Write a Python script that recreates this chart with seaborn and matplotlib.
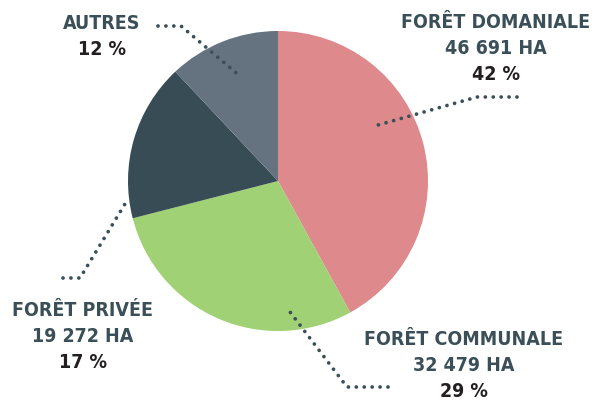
import matplotlib
matplotlib.use("Agg")
import matplotlib.pyplot as plt
import seaborn as sns

# part of the forest area by owner type
names = ["FORÊT DOMANIALE", "FORÊT COMMUNALE", "FORÊT PRIVÉE", "AUTRES"]
hectares = ["46 691 HA", "32 479 HA", "19 272 HA", ""]
percents = [42, 29, 17, 12]
colors = ["#DE898B", "#A0D174", "#374C55", "#65727F"]

sns.set_theme(style="white")
plt.rcParams['font.family'] = ['DejaVu Sans']

W, H = 594, 401
fig = plt.figure(figsize=(W / 100, H / 100), dpi=100)
ax = fig.add_axes([0, 0, 1, 1])

ax.pie(percents, colors=colors, startangle=90, counterclock=False,
       center=(278, H - 181), radius=150,
       wedgeprops=dict(linewidth=0))
ax.set_xlim(0, W)
ax.set_ylim(0, H)
ax.set_aspect("equal")
ax.axis("off")

dark = "#3A4F58"
black = "#231F20"

# leader lines, in image pixel coords (y down)
leaders = [
    [(517, 97), (477, 97), (378, 125)],
    [(388, 387), (347, 387), (287, 308)],
    [(63, 278), (80, 278), (128, 199)],
    [(158, 26), (181, 26), (241, 77)],
]
for pts in leaders:
    xs = [p[0] for p in pts]
    ys = [H - p[1] for p in pts]
    ax.plot(xs, ys, color=dark, lw=2.7, linestyle=(0, (0.01, 2.1)),
            dash_capstyle="round", solid_capstyle="round")

# label blocks: center x, baseline y of the first line
blocks = [(496, 28), (464, 345), (83, 316), (102, 29)]
step = 26
font = dict(fontweight="bold", fontsize=14, fontstretch="condensed",
            ha="center", va="baseline")
for (x, y), nm, ha_txt, pc in zip(blocks, names, hectares, percents):
    lines = [nm] + ([ha_txt] if ha_txt else [])
    for i, t in enumerate(lines):
        ax.text(x, H - (y + i * step), t, color=dark, **font)
    ax.text(x, H - (y + len(lines) * step), f"{pc} %", color=black, **font)

fig.savefig("out.png", dpi=100)
